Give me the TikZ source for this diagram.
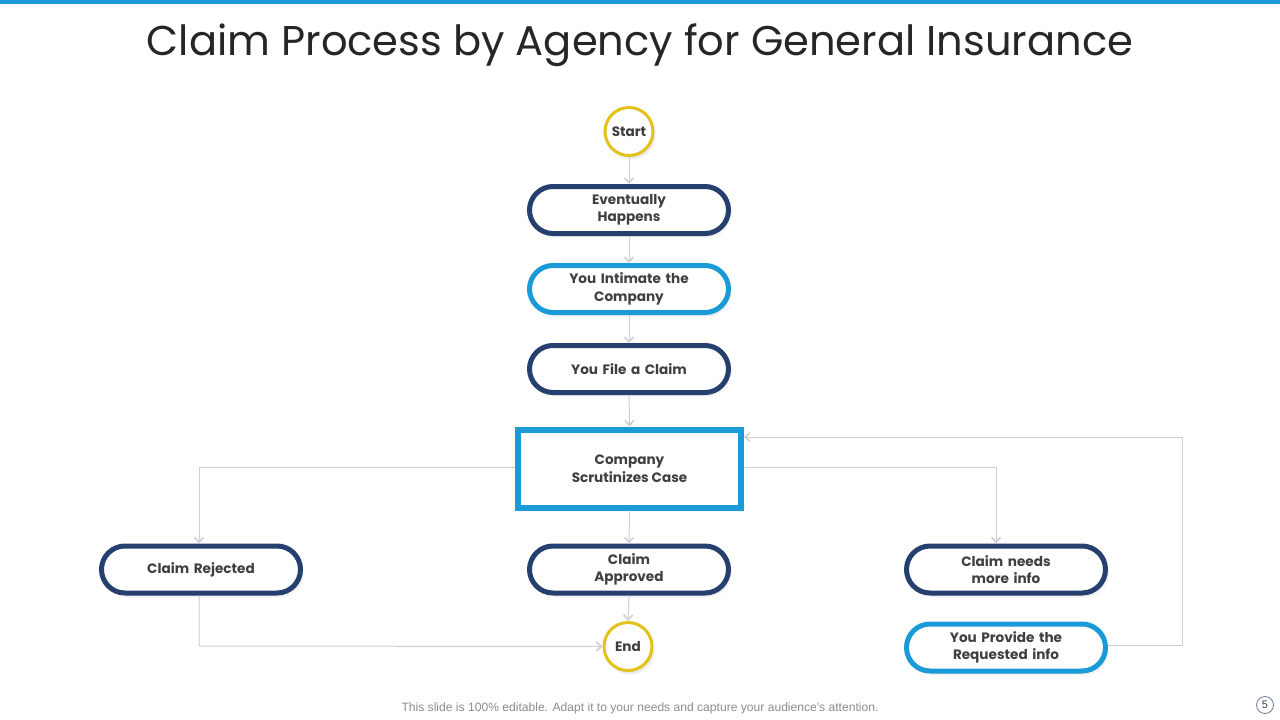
\documentclass[tikz,border=0pt]{standalone}
\usepackage{fontspec}
\setmainfont{Poppins}
\newfontfamily\footfont{Liberation Sans}
\usetikzlibrary{arrows.meta,shadows.blur}
\definecolor{navy}{HTML}{253F6E}
\definecolor{sky}{HTML}{1A9AD6}
\definecolor{gold}{HTML}{E3C21B}
\definecolor{txt}{HTML}{3F3F3F}
\definecolor{conn}{HTML}{CFCFCF}
\tikzset{
  nodefont/.style={font=\fontsize{13.6}{17.5}\selectfont\bfseries, text=txt},
  softshadow/.style={blur shadow={shadow blur steps=6, shadow xshift=2pt, shadow yshift=-3pt, shadow opacity=12}},
  pill/.style={draw=navy, line width=5pt, fill=white, rounded corners=23.5pt,
    minimum width=199pt, minimum height=47pt, text width=180pt, align=center,
    nodefont, softshadow},
  pillb/.style={pill, draw=sky},
  term/.style={circle, draw=gold, line width=3pt, fill=white, minimum size=48pt, inner sep=0pt,
    nodefont, softshadow},
  boxs/.style={draw=sky, line width=6pt, fill=white, minimum width=223pt, minimum height=78pt,
    align=center, nodefont, softshadow},
  link/.style={draw=conn, line width=1pt, -{Straight Barb[length=5pt,width=9pt,line width=1.6pt]}},
}
\begin{document}
\begin{tikzpicture}[x=1pt,y=-1pt]
\useasboundingbox (0,0) rectangle (1280,720);
\fill[sky] (0,0) rectangle (1280,4);
\node[font=\fontsize{41.6}{48}\selectfont, text=black!85] (title) at (640,45.5) {Claim Process by Agency for General Insurance};

\node[term] (start) at (629,131.5) {Start};
\node[pill] (ev) at (629,210) {Eventually\\Happens};
\node[pillb] (int) at (629,289) {You Intimate the\\Company};
\node[pill] (file) at (629,369) {You File a Claim};
\node[boxs] (scr) at (629.5,468.5) {Company\\Scrutinizes Case};
\node[pill] (rej) at (201,569.5) {Claim Rejected};
\node[pill] (app) at (629,569.5) {Claim\\Approved};
\node[pill] (need) at (1006,569.5) {Claim needs\\more info};
\node[pillb] (prov) at (1006,647.5) {You Provide the\\Requested info};
\node[term] (end) at (628,646.5) {End};

\draw[link] (start.south) -- (ev.north);
\draw[link] (ev.south) -- (int.north);
\draw[link] (int.south) -- (file.north);
\draw[link] (file.south) -- (scr.north);
\draw[link] (scr.south) -- (app.north);
\draw[link] (app.south) -- (end.north);

\coordinate (lc) at (199,467);
\coordinate (rc) at (996,467);
\draw[link] (scr.west |- lc) -- (lc) -- (lc |- rej.north);
\draw[link] (scr.east |- rc) -- (rc) -- (rc |- need.north);
\coordinate (rb) at (199,646);
\draw[link] (rej.south -| rb) -- (rb) -- (end.west);
\coordinate (fb) at (1182,645);
\coordinate (ft) at (1182,437);
\draw[link] (prov.east |- fb) -- (fb) -- (ft) -- (scr.east |- ft);

\node[font=\footfont\fontsize{12.1}{14}\selectfont, text=black!45] (foot) at (640,708.5) {This slide is 100\% editable. Adapt it to your needs and capture your audience's attention.};
\node[circle, draw=navy!70, line width=0.8pt, minimum size=17pt, inner sep=0pt, font=\footfont\fontsize{11}{13}\selectfont, text=txt] (pg) at (1265,705) {5};
\end{tikzpicture}
\end{document}
